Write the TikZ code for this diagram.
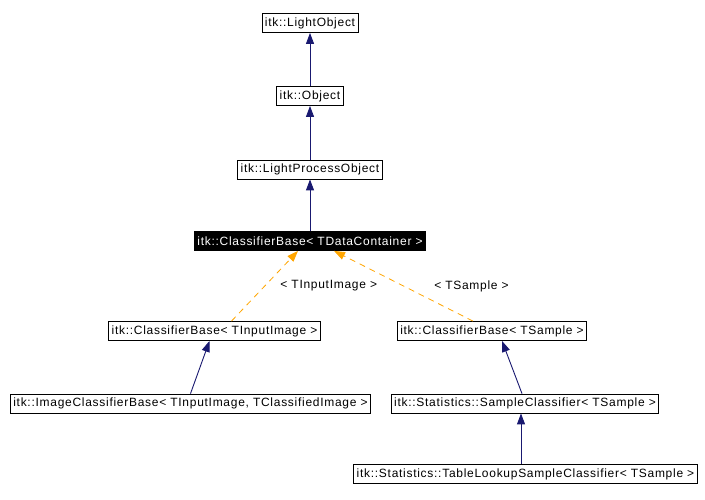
\documentclass[tikz,border=0pt]{standalone}
\usepackage{fontspec}
\setmainfont{Liberation Sans}[LetterSpace=6]
\usepackage{tikz}
\usetikzlibrary{arrows.meta}

\definecolor{edgeblue}{RGB}{25,25,112}
\definecolor{tmplorange}{RGB}{255,165,0}

\begin{document}
\begin{tikzpicture}[x=1pt,y=-1pt,
    cls/.style={draw=black,line width=0.8pt,fill=white,inner xsep=3pt,inner ysep=0pt,
      minimum height=19pt,font=\fontsize{12}{13}\selectfont},
    current/.style={cls,fill=black,text=white},
    inh/.style={edgeblue,line width=0.9pt,-{Triangle[width=8pt,length=11pt]}},
    tmpl/.style={tmplorange,line width=0.8pt,dash pattern=on 6pt off 5pt,-{Triangle[width=8pt,length=11pt]}},
    lbl/.style={text=black,font=\fontsize{12}{13}\selectfont,inner sep=0pt}]
          \useasboundingbox (0,0) rectangle (705,499);
          \node[cls] (lobj) at (310,23) {itk::LightObject};
          \node[cls] (obj) at (310,96) {itk::Object};
          \node[cls] (lpobj) at (310,169.5) {itk::LightProcessObject};
          \node[current] (cbdata) at (310,241) {itk::ClassifierBase< TDataContainer >};
          \node[cls] (cbimg) at (214.5,331) {itk::ClassifierBase< TInputImage >};
          \node[cls] (cbsmp) at (492,331) {itk::ClassifierBase< TSample >};
          \node[cls] (imgbase) at (190.5,403.5) {itk::ImageClassifierBase< TInputImage, TClassifiedImage >};
          \node[cls] (smpcls) at (525,403.5) {itk::Statistics::SampleClassifier< TSample >};
          \node[cls] (lookup) at (525.5,474) {itk::Statistics::TableLookupSampleClassifier< TSample >};
          \draw[inh] (obj) -- (lobj);
          \draw[inh] (lpobj) -- (obj);
          \draw[inh] (cbdata) -- (lpobj);
          \draw[tmpl] ([xshift=17pt]cbimg.north) -- node[lbl,pos=0.5,xshift=64pt] {< TInputImage >} ([xshift=-12pt]cbdata.south);
          \draw[tmpl] ([xshift=-19pt]cbsmp.north) -- node[lbl,pos=0.5,xshift=68pt] {< TSample >} ([xshift=24pt]cbdata.south);
          \draw[inh] (imgbase.north) -- ([xshift=-5pt]cbimg.south);
          \draw[inh] ([xshift=-3pt]smpcls.north) -- ([xshift=10pt]cbsmp.south);
          \draw[inh] ([xshift=-4.5pt]lookup.north) -- ([xshift=-4pt]smpcls.south);
        \end{tikzpicture}
\end{document}
